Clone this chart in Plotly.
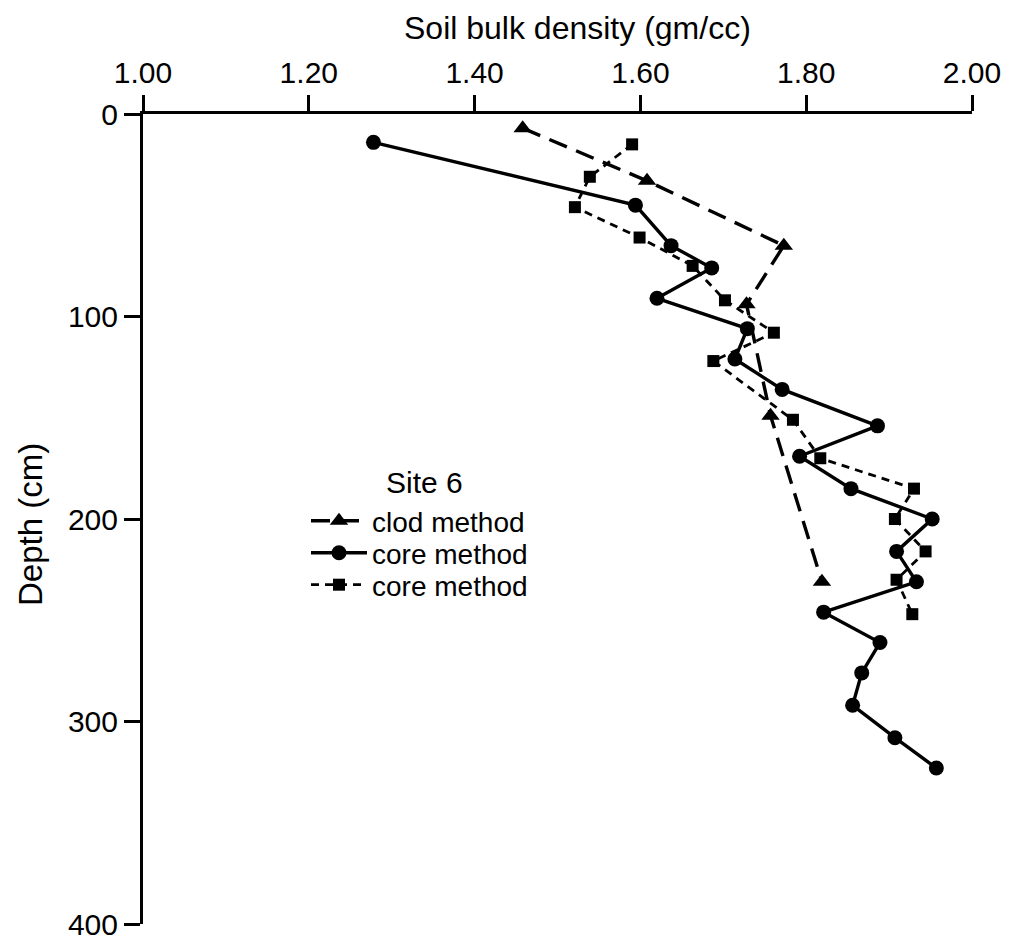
import plotly.graph_objects as go

# Clod method (triangles, long dashes)
clod_density = [1.458, 1.608, 1.773, 1.728, 1.757, 1.819]
clod_depth = [7, 33, 65, 94, 149, 231]

# Core method (circles, solid)
core_density = [1.278, 1.594, 1.637, 1.686, 1.620, 1.729, 1.714, 1.771, 1.886, 1.792,
                1.854, 1.952, 1.909, 1.933, 1.821, 1.889, 1.867, 1.856, 1.907, 1.957]
core_depth = [14, 45, 65, 76, 91, 106, 121, 136, 154, 169,
              185, 200, 216, 231, 246, 261, 276, 292, 308, 323]

# Core method (squares, short dashes)
core2_density = [1.590, 1.539, 1.521, 1.599, 1.663, 1.702, 1.761, 1.688, 1.784, 1.817,
                 1.930, 1.907, 1.944, 1.909, 1.928]
core2_depth = [15, 31, 46, 61, 75, 92, 108, 122, 151, 170, 185, 200, 216, 230, 247]

x_ticks = [1.0, 1.2, 1.4, 1.6, 1.8, 2.0]
x_ticklabels = ["1.00", "1.20", "1.40", "1.60", "1.80", "2.00"]
y_ticks = [0, 100, 200, 300, 400]

FONT = "Liberation Sans, Arial, Helvetica, sans-serif"

W, H = 1011, 941
ML, MR, MT, MB = 143, 39, 114, 17
PW, PH = W - ML - MR, H - MT - MB


def px_x(p):
    return (p - ML) / PW


def px_y(p):
    return 1 - (p - MT) / PH


fig = go.Figure()
fig.add_trace(go.Scatter(
    x=clod_density, y=clod_depth, mode="lines+markers", name="clod method",
    line=dict(color="black", width=3.4, dash="19px,10px"),
    marker=dict(symbol="triangle-up", size=16, color="black"),
    legend="legend",
))
fig.add_trace(go.Scatter(
    x=core_density, y=core_depth, mode="lines+markers", name="core method",
    line=dict(color="black", width=3.4),
    marker=dict(symbol="circle", size=15, color="black"),
    legend="legend2",
))
fig.add_trace(go.Scatter(
    x=core2_density, y=core2_depth, mode="lines+markers", name="core method",
    line=dict(color="black", width=2.8, dash="8px,6px"),
    marker=dict(symbol="square", size=12, color="black"),
    legend="legend3",
))


def leg(ypix):
    return dict(
        x=px_x(306), y=px_y(ypix), xanchor="left", yanchor="middle",
        bgcolor="rgba(0,0,0,0)", font=dict(size=28, family=FONT, color="black"),
        itemwidth=56,
    )


fig.update_layout(
    width=W, height=H,
    margin=dict(l=ML, r=MR, t=MT, b=MB, autoexpand=False),
    paper_bgcolor="white", plot_bgcolor="white",
    font=dict(family=FONT, color="black", size=30),
    showlegend=True,
    legend=leg(521),
    legend2=leg(553),
    legend3=leg(585),
    xaxis=dict(
        range=[1, 2], side="top", tickvals=x_ticks, ticktext=x_ticklabels,
        ticks="outside", ticklen=16, tickwidth=2.5, tickcolor="black",
        showline=True, linewidth=3, linecolor="black", automargin=False,
        showgrid=False, zeroline=False, ticklabeloverflow="allow",
        tickfont=dict(size=30, family=FONT),
    ),
    yaxis=dict(
        range=[400, 0], tickvals=y_ticks,
        ticks="outside", ticklen=16, tickwidth=2.5, tickcolor="black",
        showline=True, linewidth=3, linecolor="black", automargin=False,
        showgrid=False, zeroline=False, ticklabeloverflow="allow",
        tickfont=dict(size=30, family=FONT),
    ),
    annotations=[
        dict(text="Soil bulk density (gm/cc)", x=px_x(577), y=px_y(28),
             xref="paper", yref="paper", xanchor="center", yanchor="middle",
             showarrow=False, font=dict(size=32, family=FONT)),
        dict(text="Depth (cm)", x=px_x(30), y=px_y(525),
             xref="paper", yref="paper", xanchor="center", yanchor="middle",
             textangle=-90, showarrow=False, font=dict(size=33, family=FONT)),
        dict(text="Site 6", x=px_x(384), y=px_y(483),
             xref="paper", yref="paper", xanchor="left", yanchor="middle",
             showarrow=False, font=dict(size=30, family=FONT)),
    ],
)

fig.write_html("out.html")
